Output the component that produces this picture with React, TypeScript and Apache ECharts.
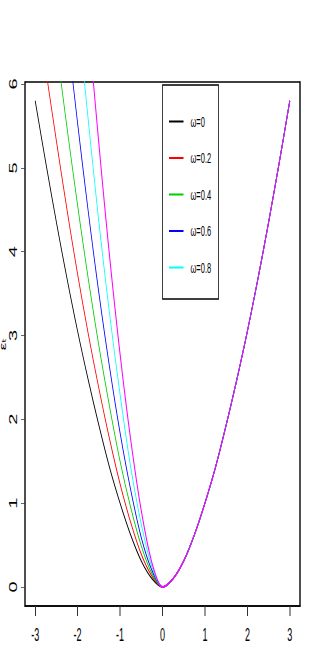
import React, { useEffect, useRef } from 'react';
import * as echarts from 'echarts';

// x grid shared by all curves
const xGrid = [-3, -2.75, -2.5, -2.25, -2, -1.75, -1.5, -1.25, -1, -0.75, -0.5, -0.25, 0, 0.25, 0.5, 0.75, 1, 1.25, 1.5, 1.75, 2, 2.25, 2.5, 2.75, 3];

// curve values (null = outside the plotted region)
const omega0 = [5.80, 5.06, 4.35, 3.68, 3.05, 2.47, 1.93, 1.43, 1.00, 0.62, 0.31, 0.10, 0, 0.10, 0.31, 0.62, 1.00, 1.43, 1.93, 2.47, 3.05, 3.68, 4.35, 5.06, 5.80];
const omega02 = [null, 6.17, 5.32, 4.50, 3.73, 3.02, 2.37, 1.77, 1.23, 0.77, 0.39, 0.13, 0, 0.10, 0.31, 0.62, 1.00, 1.43, 1.93, 2.47, 3.05, 3.68, 4.35, 5.06, 5.80];
const omega04 = [null, null, 6.45, 5.48, 4.55, 3.68, 2.88, 2.16, 1.50, 0.95, 0.49, 0.16, 0, 0.10, 0.31, 0.62, 1.00, 1.43, 1.93, 2.47, 3.05, 3.68, 4.35, 5.06, 5.80];
const omega06 = [null, null, null, 6.64, 5.53, 4.48, 3.51, 2.63, 1.84, 1.16, 0.59, 0.20, 0, 0.10, 0.31, 0.62, 1.00, 1.43, 1.93, 2.47, 3.05, 3.68, 4.35, 5.06, 5.80];
const omega08 = [null, null, null, null, 6.84, 5.57, 4.36, 3.27, 2.30, 1.43, 0.75, 0.24, 0, 0.10, 0.31, 0.62, 1.00, 1.43, 1.93, 2.47, 3.05, 3.68, 4.35, 5.06, 5.80];
const omega10 = [null, null, null, null, null, 6.72, 5.29, 3.96, 2.78, 1.76, 0.91, 0.29, 0, 0.10, 0.31, 0.62, 1.00, 1.43, 1.93, 2.47, 3.05, 3.68, 4.35, 5.06, 5.80];

const seriesNames = ['ω=0', 'ω=0.2', 'ω=0.4', 'ω=0.6', 'ω=0.8', 'ω=1'];
const legendNames = ['ω=0', 'ω=0.2', 'ω=0.4', 'ω=0.6', 'ω=0.8'];
const seriesColors = ['#000000', '#FF0000', '#00CD00', '#0000FF', '#00FFFF', '#FF00FF'];
const seriesWidths = [1.6, 1.6, 1.6, 1.6, 1.6, 2.0];
const seriesValues = [omega0, omega02, omega04, omega06, omega08, omega10];

const xTicks = [-3, -2, -1, 0, 1, 2, 3];
const yTicks = [0, 1, 2, 3, 4, 5, 6];
const yTitle = 'εₜ';

const FONT = 'Liberation Sans, DejaVu Sans, Arial, Helvetica, sans-serif';
const SQUISH = 0.5; // horizontal compression of the reference picture
const W = 313 / SQUISH;
const H = 661;

export default function App() {
  const ref = useRef<HTMLDivElement>(null);

  useEffect(() => {
    if (!ref.current) return;
    const chart = echarts.init(ref.current, undefined, { renderer: 'svg' });

    const series = seriesValues.map((vals, si) => ({
      name: seriesNames[si],
      type: 'line',
      data: xGrid
        .map((x, i) => [x, vals[i]])
        .filter((p) => p[1] !== null),
      showSymbol: false,
      smooth: 0.3,
      clip: true,
      lineStyle: { color: seriesColors[si], width: seriesWidths[si] },
      itemStyle: { color: seriesColors[si] },
      z: 2 + si,
    }));

    chart.setOption({
      animation: false,
      backgroundColor: '#ffffff',
      grid: {
        left: 50,
        right: 26,
        top: 82,
        bottom: 55,
        show: true,
        borderColor: '#000',
        borderWidth: 1.5,
        backgroundColor: 'transparent',
        containLabel: false,
        outerBoundsMode: 'none',
      },
      legend: {
        data: legendNames,
        orient: 'vertical',
        left: 338,
        top: 114,
        padding: 0,
        icon: 'rect',
        itemWidth: 29,
        itemHeight: 2,
        itemGap: 21.5,
        textStyle: {
          fontFamily: FONT,
          fontSize: 15,
          lineHeight: 14,
          color: '#000',
          padding: [0, 0, 0, 9],
        },
        z: 20,
      },
      xAxis: {
        type: 'value',
        min: -3.24,
        max: 3.24,
        axisLine: { show: true, onZero: false, lineStyle: { color: '#000', width: 1.5 } },
        axisTick: {
          show: true,
          length: 10,
          customValues: xTicks,
          lineStyle: { color: '#333', width: 2 },
        },
        axisLabel: {
          customValues: xTicks,
          fontFamily: FONT,
          fontSize: 18,
          color: '#000',
          margin: 20,
        },
        splitLine: { show: false },
      },
      yAxis: [
        {
          type: 'value',
          min: -0.227,
          max: 6.024,
          axisLine: { show: true, onZero: false, lineStyle: { color: '#000', width: 2 } },
          axisTick: {
            show: true,
            length: 8,
            customValues: yTicks,
            lineStyle: { color: '#333', width: 1 },
          },
          axisLabel: {
            customValues: yTicks,
            rotate: 90,
            fontFamily: FONT,
            fontSize: 20,
            color: '#000',
            margin: 12,
          },
          splitLine: { show: false },
          name: yTitle,
          nameLocation: 'middle',
          nameRotate: 90,
          nameGap: 35,
          nameMoveOverlap: false,
          nameTextStyle: {
            fontFamily: FONT,
            fontSize: 17,
            color: '#000',
          },
        },
        {
          type: 'value',
          position: 'right',
          min: -0.227,
          max: 6.024,
          axisLine: { show: true, onZero: false, lineStyle: { color: '#000', width: 2 } },
          axisTick: { show: false },
          axisLabel: { show: false },
          splitLine: { show: false },
        },
      ],
      graphic: [
        {
          type: 'rect',
          shape: { x: 325, y: 85, width: 112, height: 214 },
          style: { fill: '#ffffff', stroke: '#000', lineWidth: 1.5 },
          z: 10,
        },
      ],
      series,
    });

    return () => {
      chart.dispose();
    };
  }, []);

  return (
    <div style={{ position: 'absolute', left: 0, top: 0, width: 313, height: H, overflow: 'hidden', background: '#fff' }}>
      <div
        ref={ref}
        style={{ width: W, height: H, transform: `scaleX(${SQUISH})`, transformOrigin: '0 0' }}
      />
    </div>
  );
}
